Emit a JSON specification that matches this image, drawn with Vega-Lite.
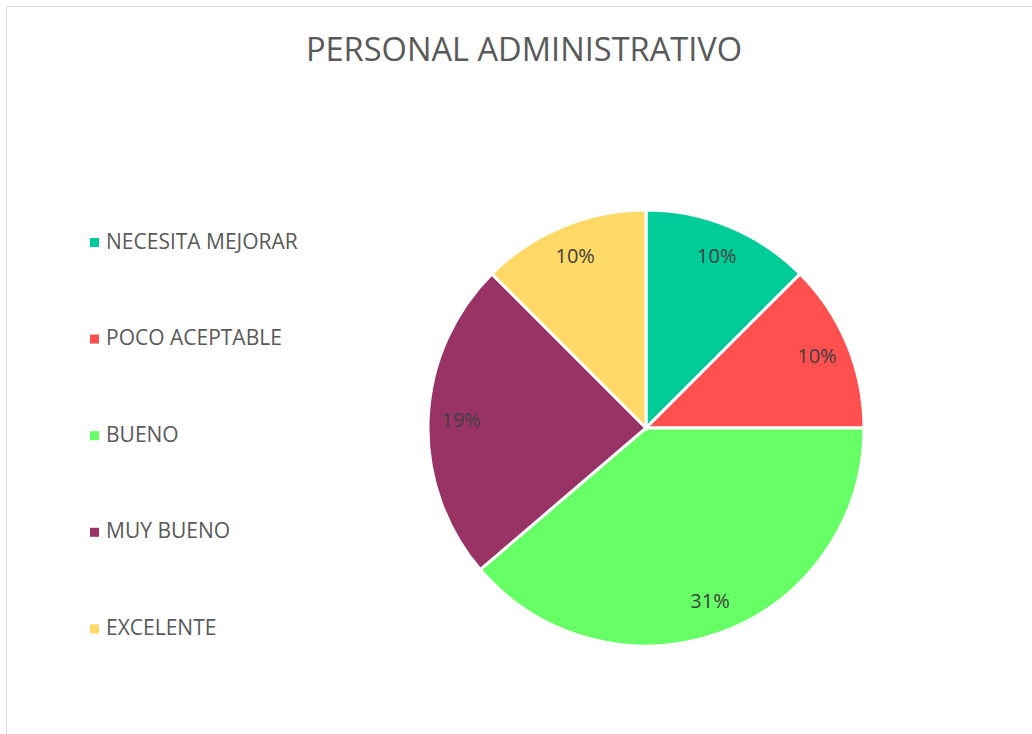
{
  "$schema": "https://vega.github.io/schema/vega-lite/v6.json",
  "width": 1026,
  "height": 728,
  "padding": {"left": 6, "top": 6, "right": 0, "bottom": 0},
  "autosize": {"type": "none"},
  "background": "white",
  "view": {"stroke": "#d9d9d9", "strokeWidth": 1, "fill": "white"},
  "title": {
    "text": "PERSONAL ADMINISTRATIVO",
    "font": "Open Sans",
    "fontSize": 32.6,
    "fontWeight": "normal",
    "color": "#595959",
    "anchor": "middle",
    "frame": "group",
    "baseline": "alphabetic",
    "offset": -56,
    "dy": 32,
    "dx": 5
  },
  "data": {
    "values": [
      {"categoria": "NECESITA MEJORAR", "valor": 0.10, "orden": 1},
      {"categoria": "POCO ACEPTABLE", "valor": 0.10, "orden": 2},
      {"categoria": "BUENO", "valor": 0.31, "orden": 3},
      {"categoria": "MUY BUENO", "valor": 0.19, "orden": 4},
      {"categoria": "EXCELENTE", "valor": 0.10, "orden": 5}
    ]
  },
  "encoding": {
    "theta": {"field": "valor", "type": "quantitative", "stack": true},
    "order": {"field": "orden", "type": "quantitative"}
  },
  "layer": [
    {
      "mark": {"type": "arc", "x": 640, "y": 422, "radius": 218, "stroke": "white", "strokeWidth": 3},
      "encoding": {
        "color": {
          "field": "categoria",
          "type": "nominal",
          "scale": {
            "domain": ["NECESITA MEJORAR", "POCO ACEPTABLE", "BUENO", "MUY BUENO", "EXCELENTE"],
            "range": ["#00CC99", "#FF5050", "#66FF66", "#993366", "#FFD966"]
          },
          "legend": {
            "title": null,
            "orient": "none",
            "legendX": 78,
            "legendY": 226,
            "padding": 0,
            "symbolType": "square",
            "symbolSize": 81,
            "symbolStrokeWidth": 0,
            "labelFont": "Open Sans",
            "labelFontSize": 21,
            "labelColor": "#595959",
            "labelOffset": 1,
            "labelLimit": 400,
            "rowPadding": 74.6
          }
        }
      }
    },
    {
      "mark": {"type": "text", "x": 640, "y": 422, "radius": 185, "font": "Open Sans", "fontSize": 20, "fill": "#404040"},
      "encoding": {
        "text": {"field": "valor", "type": "quantitative", "format": ".0%"}
      }
    }
  ],
  "config": {
    "view": {"stroke": "#d9d9d9", "strokeWidth": 1}
  }
}
